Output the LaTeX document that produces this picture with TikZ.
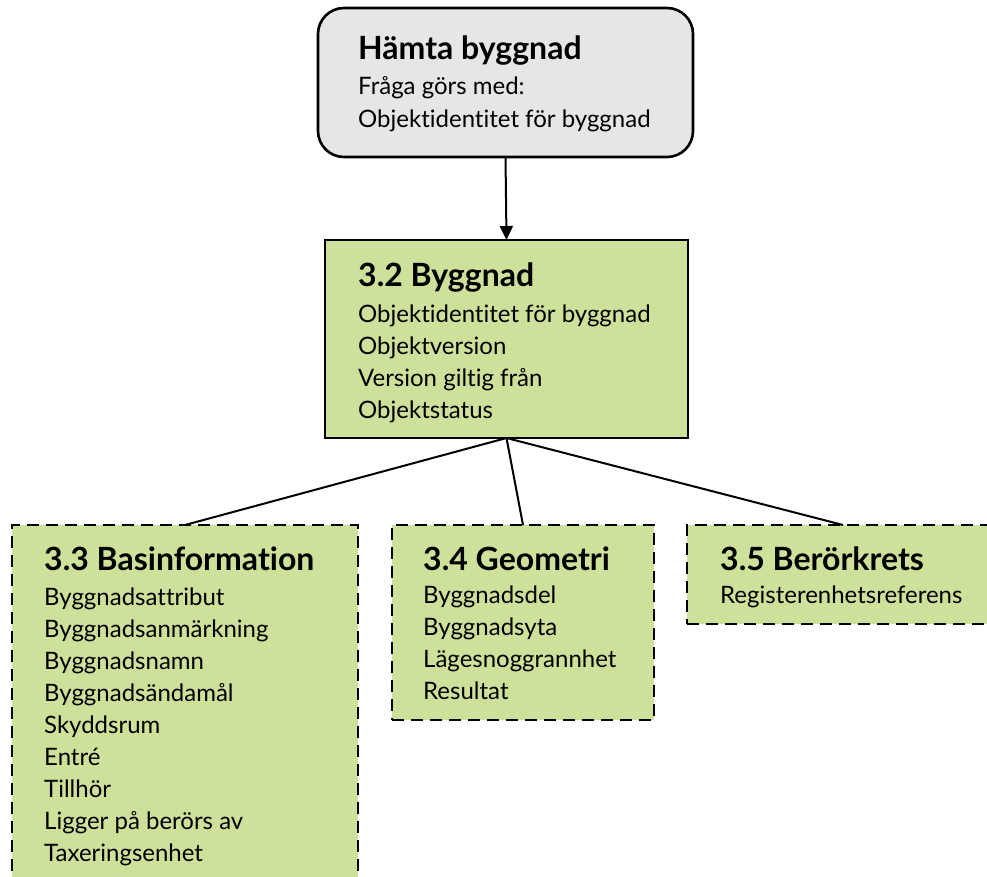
\documentclass[tikz,border=0pt]{standalone}
\usepackage{fontspec}
\setmainfont[Ligatures={NoCommon}]{Lato}
\usetikzlibrary{arrows.meta}
\definecolor{boxgray}{RGB}{230,230,230}
\definecolor{boxgreen}{RGB}{205,225,155}
\begin{document}
\begin{tikzpicture}[x=1pt,y=-1pt,
  solidbox/.style={draw=black, line width=2.6pt, inner sep=0pt, outer sep=0pt, anchor=north west},
  dashbox/.style={solidbox, dash pattern=on 12pt off 7pt},
  ttl/.style={anchor=base west, inner sep=0pt, font=\fontsize{32}{36}\selectfont\bfseries},
  bdy/.style={anchor=base west, inner sep=0pt, font=\fontsize{24}{30}\selectfont},
  conn/.style={draw=black, line width=2pt}]
\useasboundingbox (0,0) rectangle (987,877);
\clip (0,0) rectangle (987,877);
% boxes
\node[solidbox, fill=boxgray, rounded corners=26pt, minimum width=375pt, minimum height=149pt] (hamta) at (318,8) {};
\node[solidbox, fill=boxgreen, minimum width=363pt, minimum height=198pt] (bygg) at (325,240) {};
\node[dashbox, fill=boxgreen, minimum width=346pt, minimum height=380pt] (bas) at (12,525) {};
\node[dashbox, fill=boxgreen, minimum width=262pt, minimum height=195pt] (geo) at (392,525) {};
\node[dashbox, fill=boxgreen, minimum width=312pt, minimum height=99pt] (ber) at (687,525) {};
% connectors
\draw[conn, -{Triangle[length=14pt,width=13pt]}] (hamta.south) -- (bygg.north);
\draw[conn] (bygg.south) -- (bas.north);
\draw[conn] (bygg.south) -- (geo.north);
\draw[conn] (bygg.south) -- (ber.north);
% texts: Hämta byggnad
\node[ttl] (t1) at (358,60) {Hämta byggnad};
\node[bdy] (t1a) at (358,95) {Fråga görs med:};
\node[bdy] (t1b) at (358,128) {Objektidentitet för byggnad};
% 3.2
\node[ttl] (t2) at (358,287) {3.2 Byggnad};
\node[bdy] (t2a) at (358,322) {Objektidentitet för byggnad};
\node[bdy] (t2b) at (358,354) {Objektversion};
\node[bdy] (t2c) at (358,386) {Version giltig från};
\node[bdy] (t2d) at (358,418) {Objektstatus};
% 3.3
\node[ttl] (t3) at (44,570) {3.3 Basinformation};
\node[bdy] (t3a) at (44,605) {Byggnadsattribut};
\node[bdy] (t3b) at (44,637) {Byggnadsanmärkning};
\node[bdy] (t3c) at (44,669) {Byggnadsnamn};
\node[bdy] (t3d) at (44,701) {Byggnadsändamål};
\node[bdy] (t3e) at (44,733) {Skyddsrum};
\node[bdy] (t3f) at (44,765) {Entré};
\node[bdy] (t3g) at (44,797) {Tillhör};
\node[bdy] (t3h) at (44,829) {Ligger på berörs av};
\node[bdy] (t3i) at (44,861) {Taxeringsenhet};
% 3.4
\node[ttl] (t4) at (423,570) {3.4 Geometri};
\node[bdy] (t4a) at (423,603) {Byggnadsdel};
\node[bdy] (t4b) at (423,635) {Byggnadsyta};
\node[bdy] (t4c) at (423,667) {Lägesnoggrannhet};
\node[bdy] (t4d) at (423,699) {Resultat};
% 3.5
\node[ttl] (t5) at (720,570) {3.5 Berörkrets};
\node[bdy] (t5a) at (720,603) {Registerenhetsreferens};
\end{tikzpicture}
\end{document}
